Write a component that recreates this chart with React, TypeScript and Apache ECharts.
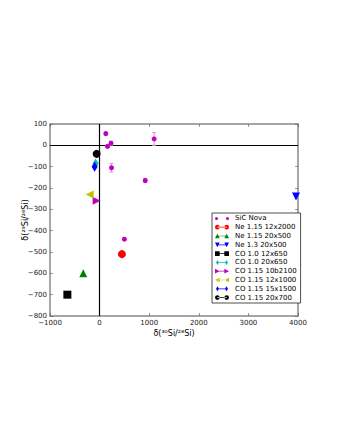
import React, { useEffect, useRef } from "react";
import * as echarts from "echarts";

const xTicks = [-1000, 0, 1000, 2000, 3000, 4000];
const yTicks = [-800, -700, -600, -500, -400, -300, -200, -100, 0, 100];

const sicX = [125, 160, 230, 240, 920, 1100, 500];
const sicY = [55, -5, 10, -105, -165, 30, -440];
const sicErr = [8, 6, 10, 20, 10, 30, 6];

const modelNames = [
  "Ne 1.15 12x2000",
  "Ne 1.15 20x500",
  "Ne 1.3 20x500",
  "CO 1.0 12x650",
  "CO 1.0 20x650",
  "CO 1.15 10b2100",
  "CO 1.15 12x1000",
  "CO 1.15 15x1500",
  "CO 1.15 20x700",
];
const modelX = [450, -330, 3960, -650, -80, -60, -200, -100, -60];
const modelY = [-510, -600, -240, -700, -85, -260, -230, -100, -40];
const modelColors = ["#ff0000", "#008000", "#0000ff", "#000000", "#00bfbf", "#bf00bf", "#bfbf00", "#0000ff", "#000000"];
const modelKinds = ["circle", "triangle", "down", "square", "diamond", "right", "left", "diamond", "circle"];

const markerPaths: Record<string, string> = {
  triangle: "path://M0,-5L5,5L-5,5Z",
  down: "path://M-5,-5L5,-5L0,5Z",
  square: "path://M-5,-5L5,-5L5,5L-5,5Z",
  diamond: "path://M0,-6L3.5,0L0,6L-3.5,0Z",
  right: "path://M-5,-5L5,0L-5,5Z",
  left: "path://M5,-5L-5,0L5,5Z",
};

function seriesSymbol(kind: string): string {
  if (kind === "circle") return "circle";
  return markerPaths[kind];
}

function shapeAt(kind: string, cx: number): string {
  const r = 4.5;
  switch (kind) {
    case "circle":
      return `M${cx - r},5a${r},${r} 0 1,0 ${2 * r},0a${r},${r} 0 1,0 ${-2 * r},0Z`;
    case "triangle":
      return `M${cx},0.5L${cx + r},9.5L${cx - r},9.5Z`;
    case "down":
      return `M${cx - r},0.5L${cx + r},0.5L${cx},9.5Z`;
    case "square":
      return `M${cx - r},0.5L${cx + r},0.5L${cx + r},9.5L${cx - r},9.5Z`;
    case "diamond":
      return `M${cx},0L${cx + 3},5L${cx},10L${cx - 3},5Z`;
    case "right":
      return `M${cx - r},0.5L${cx + r},5L${cx - r},9.5Z`;
    case "left":
      return `M${cx + r},0.5L${cx - r},5L${cx + r},9.5Z`;
  }
  return "";
}

function legendIcon(kind: string): string {
  return "path://" + shapeAt(kind, 5) + "M5,4.3L23,4.3L23,5.7L5,5.7Z" + shapeAt(kind, 23);
}

const sicIcon =
  "path://M2.5,5a2.5,2.5 0 1,0 5,0a2.5,2.5 0 1,0 -5,0ZM20.5,5a2.5,2.5 0 1,0 5,0a2.5,2.5 0 1,0 -5,0Z";

export default function App() {
  const ref = useRef<HTMLDivElement>(null);
  useEffect(() => {
    if (!ref.current) return;
    const chart = echarts.init(ref.current, null, { renderer: "svg" });
    const font = "DejaVu Sans";
    const fmt = (v: number) => String(v).replace("-", "\u2212");
    const axisCommon = {
      axisLine: { show: true, onZero: false, lineStyle: { color: "#a0a0a0", width: 1.5 } },
      axisTick: { show: true, inside: true, length: 3, lineStyle: { color: "#555", width: 0.6 } },
      splitLine: { show: false },
    };
    const series: any[] = [
      {
        name: "SiC Nova errors",
        type: "custom",
        xAxisIndex: 0,
        yAxisIndex: 0,
        data: sicX.map((x, i) => [x, sicY[i], sicErr[i]]),
        renderItem: (params: any, api: any) => {
          const x = api.value(0);
          const y = api.value(1);
          const e = api.value(2);
          const top = api.coord([x, y + e]);
          const bot = api.coord([x, y - e]);
          const s = { stroke: "#e090e0", lineWidth: 1 };
          return {
            type: "group",
            children: [
              { type: "line", shape: { x1: top[0], y1: top[1], x2: bot[0], y2: bot[1] }, style: s },
              { type: "line", shape: { x1: top[0] - 2, y1: top[1], x2: top[0] + 2, y2: top[1] }, style: s },
              { type: "line", shape: { x1: bot[0] - 2, y1: bot[1], x2: bot[0] + 2, y2: bot[1] }, style: s },
            ],
          };
        },
        z: 2,
        silent: true,
      },
      {
        name: "SiC Nova",
        type: "scatter",
        data: sicX.map((x, i) => [x, sicY[i]]),
        symbol: "circle",
        symbolSize: 5,
        itemStyle: { color: "#bf00bf", opacity: 1 },
        z: 3,
        markLine: {
          silent: true,
          symbol: "none",
          label: { show: false },
          lineStyle: { color: "#000", type: "solid", width: 1.2 },
          data: [{ xAxis: 0 }, { yAxis: 0 }],
          z: 1,
        },
      },
    ];
    modelNames.forEach((name, i) => {
      series.push({
        name,
        type: "scatter",
        data: [[modelX[i], modelY[i]]],
        symbol: seriesSymbol(modelKinds[i]),
        symbolSize: modelKinds[i] === "diamond" ? [6, 10] : 8,
        itemStyle: { color: modelColors[i], opacity: 1 },
        z: 4,
      });
    });
    chart.setOption({
      animation: false,
      textStyle: { fontFamily: font },
      grid: { left: 50, right: 42, top: 124, bottom: 124, show: true, borderColor: "#a0a0a0", borderWidth: 1.5 },
      legend: {
        data: [
          { name: "SiC Nova", icon: sicIcon },
          ...modelNames.map((n, i) => ({ name: n, icon: legendIcon(modelKinds[i]) })),
        ],
        orient: "vertical",
        left: 212,
        top: 213,
        itemWidth: 14,
        itemHeight: 5,
        itemGap: 0,
        padding: [1, 4, 1, 3],
        borderColor: "#222",
        borderWidth: 0.8,
        backgroundColor: "#fff",
        itemStyle: { borderWidth: 0, opacity: 1 },
        textStyle: { fontSize: 7, lineHeight: 8.8, color: "#000", fontFamily: font, padding: [0, 0, 0, 1] },
        selectedMode: false,
      },
      xAxis: [
        {
          type: "value",
          min: xTicks[0],
          max: xTicks[xTicks.length - 1],
          interval: 1000,
          position: "bottom",
          name: "\u03b4(\u00b3\u2070Si/\u00b2\u2078Si)",
          nameLocation: "middle",
          nameGap: 13,
          nameMoveOverlap: false,
          nameTextStyle: { fontSize: 8, color: "#000", fontFamily: font },
          axisLabel: { fontSize: 7, color: "#222", margin: 3, formatter: fmt },
          ...axisCommon,
        },
        {
          type: "value",
          min: xTicks[0],
          max: xTicks[xTicks.length - 1],
          interval: 1000,
          position: "top",
          axisLabel: { show: false },
          ...axisCommon,
        },
      ],
      yAxis: [
        {
          type: "value",
          min: yTicks[0],
          max: yTicks[yTicks.length - 1],
          interval: 100,
          position: "left",
          name: "\u03b4(\u00b2\u2079Si/\u00b2\u2078Si)",
          nameLocation: "middle",
          nameGap: 21,
          nameMoveOverlap: false,
          nameRotate: 90,
          nameTextStyle: { fontSize: 8, color: "#000", fontFamily: font },
          axisLabel: { fontSize: 7, color: "#222", margin: 3, formatter: fmt },
          ...axisCommon,
        },
        {
          type: "value",
          min: yTicks[0],
          max: yTicks[yTicks.length - 1],
          interval: 100,
          position: "right",
          axisLabel: { show: false },
          ...axisCommon,
        },
      ],
      series,
    });
    return () => chart.dispose();
  }, []);
  return <div ref={ref} style={{ width: 340, height: 440, position: "absolute", left: 0, top: 0 }} />;
}
